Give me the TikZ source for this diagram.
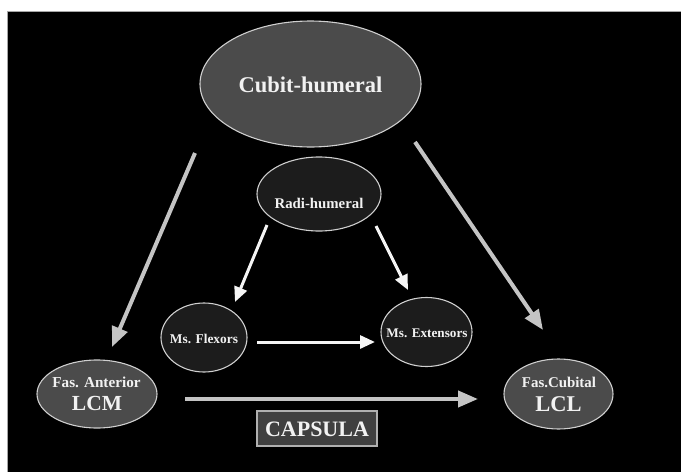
\documentclass[tikz,border=0pt]{standalone}
\usepackage{fontspec}
\setmainfont{Liberation Serif}
\usetikzlibrary{arrows.meta,shapes.geometric}
\definecolor{bordc}{HTML}{CFCFCF}
\definecolor{midfill}{HTML}{4B4B4B}
\definecolor{darkfill}{HTML}{1C1C1C}
\definecolor{txtc}{HTML}{F2F2F2}
\definecolor{grayarr}{HTML}{C4C4C4}
\definecolor{whitearr}{HTML}{F5F5F5}
\begin{document}
\begin{tikzpicture}[x=1pt,y=-1pt,
  ell/.style={ellipse,draw=bordc,line width=1.1pt,inner sep=0pt},
  midell/.style={ell,fill=midfill},
  darkell/.style={ell,fill=darkfill},
  lbl/.style={text=txtc,anchor=base,inner sep=0pt,font=\bfseries},
  grayarrow/.style={draw=grayarr,line width=4pt,-{Triangle[length=20pt,width=16pt]}},
  whitearrow/.style={draw=whitearr,line width=3pt,-{Triangle[length=15pt,width=13pt]}},
  capbox/.style={rectangle,draw=bordc!85!black,line width=1.1pt,fill=midfill!85!black,inner sep=0pt,minimum width=120pt,minimum height=35pt}]
\useasboundingbox (0,0) rectangle (681,472);
\fill[white] (0,0) rectangle (681,472);
\fill[black] (7,11) rectangle (681,472);
\draw[gray!70,line width=0.8pt] (7,472) -- (7,11) -- (681,11);

% shapes
\node[midell,minimum width=221pt,minimum height=126pt] (cubit) at (310.5,84) {};
\node[darkell,minimum width=124pt,minimum height=74pt] (radi) at (319,194) {};
\node[darkell,minimum width=86pt,minimum height=69pt] (flex) at (204,337.5) {};
\node[darkell,minimum width=91pt,minimum height=69pt] (ext) at (426.5,332) {};
\node[midell,minimum width=120pt,minimum height=68pt] (lcm) at (97,394) {};
\node[midell,minimum width=109pt,minimum height=70pt] (lcl) at (558.5,394) {};
\node[capbox] (caps) at (317,428.5) {};

% texts
\node[lbl,font=\bfseries\fontsize{22.5}{24}\selectfont] (cubitT) at (310.5,92.5) {Cubit-humeral};
\node[lbl,font=\bfseries\fontsize{14.8}{16}\selectfont] (radiT) at (319,208) {Radi-humeral};
\node[lbl,font=\bfseries\fontsize{13.4}{15}\selectfont] (flexT) at (204,343.5) {Ms. Flexors};
\node[lbl,font=\bfseries\fontsize{13.2}{15}\selectfont] (extT) at (427,337.5) {Ms. Extensors};
\node[lbl,font=\bfseries\fontsize{15.2}{17}\selectfont] (lcmA) at (96.5,387) {Fas. Anterior};
\node[lbl,font=\bfseries\fontsize{21.5}{23}\selectfont] (lcmB) at (97,410) {LCM};
\node[lbl,font=\bfseries\fontsize{14.9}{17}\selectfont] (lclA) at (559,387) {Fas.Cubital};
\node[lbl,font=\bfseries\fontsize{22.5}{24}\selectfont] (lclB) at (558.5,411) {LCL};
\node[lbl,font=\bfseries\fontsize{22}{24}\selectfont] (capsT) at (317,436.5) {CAPSULA};

% connector end points
\coordinate (c1s) at (195,153);  \coordinate (c1e) at (112,347);
\coordinate (c2s) at (415,142);  \coordinate (c2e) at (543,330);
\coordinate (r1s) at (267,225);  \coordinate (r1e) at (235,302);
\coordinate (r2s) at (376,226);  \coordinate (r2e) at (408,290);
\coordinate (f1s) at (257,342);  \coordinate (f1e) at (375,342);
\coordinate (k1s) at (185,399);  \coordinate (k1e) at (478,399);

% connectors
\draw[grayarrow] (c1s) -- (c1e);
\draw[grayarrow] (c2s) -- (c2e);
\draw[grayarrow] (k1s) -- (k1e);
\draw[whitearrow] (r1s) -- (r1e);
\draw[whitearrow] (r2s) -- (r2e);
\draw[whitearrow] (f1s) -- (f1e);
\end{tikzpicture}
\end{document}
